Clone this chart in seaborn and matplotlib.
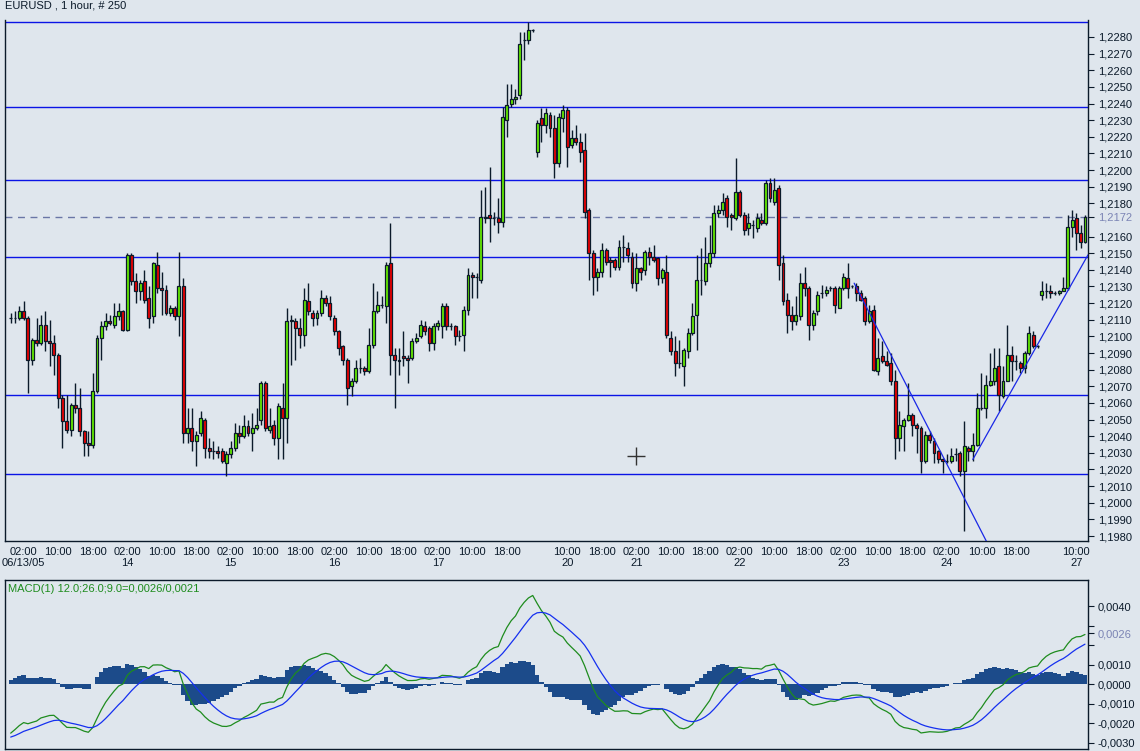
import numpy as np
import pandas as pd
import seaborn as sns
import matplotlib.pyplot as plt

# --- EURUSD 1 hour, 250 bars ---
opens = [
    1.2111, 1.2111, 1.2111, 1.2115, 1.2111, 1.2086, 1.2098, 1.2096, 1.2107, 1.2097,
    1.2096, 1.2089, 1.2063, 1.2049, 1.2044, 1.2059, 1.2057, 1.2043, 1.2036, 1.2035,
    1.2067, 1.2099, 1.2106, 1.2109, 1.2107, 1.2112, 1.2115, 1.2104, 1.2149, 1.2133,
    1.2127, 1.2133, 1.2123, 1.2112, 1.2143, 1.2129, 1.2128, 1.2114, 1.2117, 1.2112,
    1.2130, 1.2042, 1.2045, 1.2037, 1.2042, 1.2050, 1.2033, 1.2031, 1.2031, 1.2031,
    1.2024, 1.2029, 1.2033, 1.2042, 1.2040, 1.2046, 1.2042, 1.2045, 1.2050, 1.2072,
    1.2044, 1.2047, 1.2039, 1.2057, 1.2051, 1.2110, 1.2109, 1.2105, 1.2101, 1.2121,
    1.2114, 1.2111, 1.2114, 1.2123, 1.2120, 1.2111, 1.2103, 1.2094, 1.2086, 1.2070,
    1.2073, 1.2081, 1.2081, 1.2079, 1.2095, 1.2115, 1.2119, 1.2118, 1.2144, 1.2089,
    1.2085, 1.2088, 1.2087, 1.2087, 1.2097, 1.2100, 1.2106, 1.2105, 1.2096, 1.2106,
    1.2106, 1.2118, 1.2106, 1.2106, 1.2100, 1.2101, 1.2116, 1.2137, 1.2136, 1.2134,
    1.2171, 1.2173, 1.2171, 1.2171, 1.2169, 1.2230, 1.2240, 1.2243, 1.2245, 1.2278,
    1.2278, 1.2284, 1.2211, 1.2231, 1.2227, 1.2233, 1.2225, 1.2204, 1.2231, 1.2236,
    1.2215, 1.2219, 1.2217, 1.2212, 1.2176, 1.2150, 1.2136, 1.2139, 1.2152, 1.2146,
    1.2146, 1.2142, 1.2154, 1.2153, 1.2148, 1.2132, 1.2141, 1.2140, 1.2151, 1.2148,
    1.2147, 1.2135, 1.2139, 1.2099, 1.2091, 1.2084, 1.2082, 1.2091, 1.2102, 1.2113,
    1.2134, 1.2133, 1.2144, 1.2150, 1.2174, 1.2176, 1.2183, 1.2173, 1.2171, 1.2187,
    1.2173, 1.2165, 1.2167, 1.2165, 1.2170, 1.2168, 1.2192, 1.2181, 1.2189, 1.2144,
    1.2122, 1.2113, 1.2109, 1.2112, 1.2132, 1.2129, 1.2107, 1.2115, 1.2126, 1.2126,
    1.2129, 1.2129, 1.2117, 1.2129, 1.2135, 1.2130, 1.2130, 1.2126, 1.2123, 1.2109,
    1.2116, 1.2079, 1.2088, 1.2085, 1.2084, 1.2073, 1.2039, 1.2046, 1.2050, 1.2053,
    1.2047, 1.2045, 1.2025, 1.2041, 1.2037, 1.2031, 1.2026, 1.2025, 1.2025, 1.2029,
    1.2030, 1.2019, 1.2033, 1.2031, 1.2035, 1.2057, 1.2057, 1.2071, 1.2073, 1.2082,
    1.2064, 1.2073, 1.2089, 1.2085, 1.2084, 1.2081, 1.2090, 1.2101, 1.2094, 1.2125,
    1.2127, 1.2127, 1.2126, 1.2126, 1.2127, 1.2129, 1.2166, 1.2171, 1.2162, 1.2157,
]
highs = [
    1.2114, 1.2115, 1.2118, 1.2121, 1.2112, 1.2099, 1.2111, 1.2113, 1.2115, 1.2110,
    1.2101, 1.2090, 1.2065, 1.2065, 1.2060, 1.2072, 1.2069, 1.2044, 1.2043, 1.2078,
    1.2101, 1.2109, 1.2114, 1.2113, 1.2120, 1.2120, 1.2116, 1.2150, 1.2150, 1.2138,
    1.2134, 1.2140, 1.2130, 1.2145, 1.2151, 1.2139, 1.2131, 1.2119, 1.2118, 1.2151,
    1.2135, 1.2057, 1.2057, 1.2043, 1.2055, 1.2051, 1.2039, 1.2037, 1.2034, 1.2033,
    1.2031, 1.2037, 1.2048, 1.2047, 1.2053, 1.2050, 1.2054, 1.2057, 1.2073, 1.2073,
    1.2057, 1.2050, 1.2060, 1.2072, 1.2117, 1.2113, 1.2111, 1.2111, 1.2129, 1.2132,
    1.2116, 1.2116, 1.2128, 1.2125, 1.2124, 1.2113, 1.2104, 1.2095, 1.2087, 1.2075,
    1.2086, 1.2087, 1.2082, 1.2105, 1.2132, 1.2127, 1.2124, 1.2145, 1.2168, 1.2093,
    1.2093, 1.2103, 1.2089, 1.2099, 1.2102, 1.2110, 1.2109, 1.2106, 1.2108, 1.2110,
    1.2120, 1.2120, 1.2108, 1.2107, 1.2104, 1.2118, 1.2141, 1.2139, 1.2138, 1.2188,
    1.2190, 1.2202, 1.2175, 1.2183, 1.2238, 1.2252, 1.2252, 1.2249, 1.2283, 1.2283,
    1.2289, 1.2285, 1.2230, 1.2237, 1.2237, 1.2235, 1.2233, 1.2234, 1.2239, 1.2238,
    1.2224, 1.2227, 1.2222, 1.2222, 1.2177, 1.2152, 1.2141, 1.2156, 1.2153, 1.2148,
    1.2147, 1.2158, 1.2161, 1.2157, 1.2151, 1.2150, 1.2142, 1.2152, 1.2154, 1.2155,
    1.2148, 1.2141, 1.2149, 1.2103, 1.2100, 1.2098, 1.2093, 1.2105, 1.2120, 1.2149,
    1.2153, 1.2160, 1.2167, 1.2179, 1.2179, 1.2186, 1.2185, 1.2174, 1.2207, 1.2188,
    1.2175, 1.2174, 1.2170, 1.2174, 1.2174, 1.2194, 1.2195, 1.2195, 1.2191, 1.2149,
    1.2126, 1.2118, 1.2124, 1.2138, 1.2142, 1.2130, 1.2116, 1.2127, 1.2131, 1.2130,
    1.2130, 1.2130, 1.2130, 1.2138, 1.2144, 1.2131, 1.2132, 1.2128, 1.2124, 1.2119,
    1.2119, 1.2099, 1.2097, 1.2091, 1.2090, 1.2080, 1.2055, 1.2051, 1.2072, 1.2054,
    1.2048, 1.2046, 1.2043, 1.2043, 1.2039, 1.2032, 1.2027, 1.2029, 1.2033, 1.2033,
    1.2031, 1.2049, 1.2034, 1.2042, 1.2066, 1.2078, 1.2077, 1.2090, 1.2093, 1.2093,
    1.2082, 1.2107, 1.2094, 1.2089, 1.2085, 1.2091, 1.2106, 1.2103, 1.2095, 1.2133,
    1.2132, 1.2131, 1.2127, 1.2128, 1.2136, 1.2173, 1.2176, 1.2174, 1.2167, 1.2173,
]
lows = [
    1.2108, 1.2108, 1.2110, 1.2110, 1.2066, 1.2083, 1.2094, 1.2095, 1.2091, 1.2082,
    1.2077, 1.2057, 1.2033, 1.2042, 1.2040, 1.2054, 1.2040, 1.2028, 1.2028, 1.2033,
    1.2066, 1.2086, 1.2104, 1.2107, 1.2105, 1.2110, 1.2103, 1.2103, 1.2131, 1.2120,
    1.2122, 1.2120, 1.2105, 1.2108, 1.2126, 1.2113, 1.2113, 1.2112, 1.2110, 1.2100,
    1.2036, 1.2036, 1.2031, 1.2022, 1.2040, 1.2027, 1.2027, 1.2026, 1.2027, 1.2024,
    1.2016, 1.2027, 1.2031, 1.2036, 1.2039, 1.2040, 1.2031, 1.2044, 1.2047, 1.2043,
    1.2042, 1.2035, 1.2026, 1.2026, 1.2036, 1.2083, 1.2086, 1.2093, 1.2094, 1.2113,
    1.2106, 1.2107, 1.2112, 1.2118, 1.2110, 1.2101, 1.2089, 1.2083, 1.2059, 1.2064,
    1.2072, 1.2078, 1.2077, 1.2078, 1.2093, 1.2114, 1.2117, 1.2108, 1.2077, 1.2057,
    1.2077, 1.2082, 1.2072, 1.2086, 1.2096, 1.2099, 1.2101, 1.2091, 1.2092, 1.2104,
    1.2099, 1.2104, 1.2104, 1.2095, 1.2097, 1.2091, 1.2113, 1.2123, 1.2123, 1.2132,
    1.2168, 1.2157, 1.2167, 1.2162, 1.2166, 1.2220, 1.2238, 1.2240, 1.2243, 1.2266,
    1.2276, 1.2283, 1.2208, 1.2217, 1.2222, 1.2220, 1.2195, 1.2202, 1.2223, 1.2202,
    1.2213, 1.2215, 1.2205, 1.2171, 1.2134, 1.2125, 1.2127, 1.2136, 1.2143, 1.2136,
    1.2140, 1.2140, 1.2145, 1.2145, 1.2129, 1.2127, 1.2134, 1.2137, 1.2143, 1.2145,
    1.2131, 1.2132, 1.2099, 1.2089, 1.2076, 1.2081, 1.2070, 1.2087, 1.2101, 1.2092,
    1.2125, 1.2131, 1.2142, 1.2148, 1.2172, 1.2173, 1.2166, 1.2164, 1.2170, 1.2172,
    1.2161, 1.2161, 1.2159, 1.2163, 1.2167, 1.2167, 1.2181, 1.2179, 1.2134, 1.2119,
    1.2102, 1.2104, 1.2107, 1.2110, 1.2124, 1.2098, 1.2104, 1.2113, 1.2123, 1.2124,
    1.2127, 1.2114, 1.2117, 1.2128, 1.2123, 1.2129, 1.2121, 1.2121, 1.2107, 1.2108,
    1.2079, 1.2077, 1.2084, 1.2082, 1.2071, 1.2026, 1.2031, 1.2031, 1.2049, 1.2040,
    1.2030, 1.2018, 1.2024, 1.2036, 1.2024, 1.2024, 1.2018, 1.2024, 1.2024, 1.2025,
    1.2016, 1.1983, 1.2025, 1.2025, 1.2034, 1.2056, 1.2051, 1.2070, 1.2071, 1.2055,
    1.2063, 1.2073, 1.2073, 1.2080, 1.2078, 1.2078, 1.2089, 1.2093, 1.2093, 1.2122,
    1.2123, 1.2123, 1.2125, 1.2125, 1.2127, 1.2128, 1.2160, 1.2152, 1.2153, 1.2156,
]
closes = [
    1.2111, 1.2111, 1.2115, 1.2111, 1.2086, 1.2098, 1.2096, 1.2107, 1.2097, 1.2096,
    1.2089, 1.2063, 1.2049, 1.2044, 1.2059, 1.2057, 1.2043, 1.2036, 1.2035, 1.2067,
    1.2099, 1.2106, 1.2109, 1.2108, 1.2112, 1.2115, 1.2104, 1.2149, 1.2133, 1.2127,
    1.2132, 1.2122, 1.2111, 1.2144, 1.2129, 1.2128, 1.2114, 1.2117, 1.2112, 1.2130,
    1.2042, 1.2045, 1.2037, 1.2041, 1.2051, 1.2033, 1.2031, 1.2031, 1.2030, 1.2025,
    1.2029, 1.2033, 1.2042, 1.2040, 1.2046, 1.2042, 1.2045, 1.2047, 1.2072, 1.2045,
    1.2046, 1.2039, 1.2058, 1.2051, 1.2109, 1.2109, 1.2105, 1.2101, 1.2122, 1.2115,
    1.2111, 1.2114, 1.2123, 1.2120, 1.2112, 1.2103, 1.2093, 1.2086, 1.2069, 1.2073,
    1.2081, 1.2081, 1.2079, 1.2095, 1.2115, 1.2119, 1.2119, 1.2143, 1.2089, 1.2086,
    1.2086, 1.2087, 1.2086, 1.2097, 1.2099, 1.2107, 1.2103, 1.2096, 1.2106, 1.2108,
    1.2118, 1.2106, 1.2106, 1.2100, 1.2100, 1.2116, 1.2137, 1.2136, 1.2136, 1.2172,
    1.2172, 1.2171, 1.2171, 1.2169, 1.2232, 1.2239, 1.2243, 1.2244, 1.2276, 1.2278,
    1.2284, 1.2284, 1.2228, 1.2227, 1.2234, 1.2225, 1.2204, 1.2232, 1.2236, 1.2214,
    1.2219, 1.2217, 1.2211, 1.2175, 1.2150, 1.2136, 1.2139, 1.2152, 1.2145, 1.2145,
    1.2142, 1.2154, 1.2154, 1.2149, 1.2132, 1.2141, 1.2139, 1.2151, 1.2148, 1.2146,
    1.2135, 1.2140, 1.2101, 1.2091, 1.2084, 1.2084, 1.2092, 1.2102, 1.2112, 1.2134,
    1.2134, 1.2144, 1.2150, 1.2174, 1.2176, 1.2181, 1.2172, 1.2172, 1.2187, 1.2173,
    1.2164, 1.2168, 1.2167, 1.2171, 1.2168, 1.2192, 1.2183, 1.2188, 1.2143, 1.2121,
    1.2113, 1.2109, 1.2113, 1.2132, 1.2129, 1.2107, 1.2114, 1.2125, 1.2126, 1.2128,
    1.2129, 1.2119, 1.2129, 1.2136, 1.2129, 1.2130, 1.2126, 1.2122, 1.2109, 1.2115,
    1.2080, 1.2087, 1.2085, 1.2083, 1.2073, 1.2039, 1.2047, 1.2050, 1.2053, 1.2047,
    1.2045, 1.2025, 1.2041, 1.2038, 1.2030, 1.2026, 1.2025, 1.2025, 1.2028, 1.2029,
    1.2019, 1.2034, 1.2031, 1.2035, 1.2057, 1.2057, 1.2071, 1.2073, 1.2081, 1.2065,
    1.2073, 1.2089, 1.2085, 1.2085, 1.2081, 1.2090, 1.2102, 1.2094, 1.2094, 1.2127,
    1.2127, 1.2126, 1.2126, 1.2127, 1.2129, 1.2166, 1.2170, 1.2162, 1.2157, 1.2172,
]

# time axis labels (bar index -> label)
tick_bars = [3, 11, 19, 27, 35, 43, 51, 59, 67, 75, 83, 91, 99, 107, 115,
             129, 137, 145, 153, 161, 169, 177, 185, 193, 201, 209, 217, 225, 233, 247]
tick_times = ["02:00", "10:00", "18:00", "02:00", "10:00", "18:00", "02:00", "10:00",
              "18:00", "02:00", "10:00", "18:00", "02:00", "10:00", "18:00",
              "10:00", "18:00", "02:00", "10:00", "18:00", "02:00", "10:00", "18:00",
              "02:00", "10:00", "18:00", "02:00", "10:00", "18:00", "10:00"]
date_bars = [3, 27, 51, 75, 99, 129, 145, 169, 193, 217, 247]
date_labels = ["06/13/05", "14", "15", "16", "17", "20", "21", "22", "23", "24", "27"]

# drawn objects on the price chart
level_prices = [1.2289, 1.2238, 1.2194, 1.2148, 1.2065, 1.2017]
last_price = 1.2172
trend_down_bars = [195.5, 227.5]
trend_down_prices = [1.2132, 1.1970]
trend_up_bars = [223.0, 249.7]
trend_up_prices = [1.2026, 1.2149]
cursor_bar, cursor_price = 145, 1.2028

# MACD settings, the values it starts from and the values printed on the chart
macd_fast, macd_slow, macd_sig = 12, 26, 9
macd_first, signal_first = -0.0025, -0.0027
macd_shown, signal_shown = 0.0026, 0.0021

BG = "#dfe6ed"
INK = "#0b1a2a"

sns.set_theme(style="white", rc={
    "axes.facecolor": BG, "figure.facecolor": BG,
    "axes.edgecolor": INK, "axes.linewidth": 1.0,
    "xtick.color": INK, "ytick.color": INK,
})
plt.rcParams["font.family"] = ["Liberation Sans", "DejaVu Sans"]

df = pd.DataFrame({"open": opens, "high": highs, "low": lows, "close": closes})
df["bar"] = np.arange(len(df))

# MACD from the closes
a_f = 2.0 / (macd_fast + 1)
a_s = 2.0 / (macd_slow + 1)
a_g = 2.0 / (macd_sig + 1)
ema_f = [closes[0]]
ema_s = [closes[0] - macd_first]
sig = [signal_first]
for c in closes[1:]:
    ema_f.append(ema_f[-1] + a_f * (c - ema_f[-1]))
    ema_s.append(ema_s[-1] + a_s * (c - ema_s[-1]))
    m = ema_f[-1] - ema_s[-1]
    sig.append(sig[-1] + a_g * (m - sig[-1]))
df["macd"] = np.array(ema_f) - np.array(ema_s)
df["signal"] = sig
df["hist"] = df["macd"] - df["signal"]

W, H = 1140, 751
fig = plt.figure(figsize=(W / 100, H / 100), dpi=100)


def px_axes(x0, y0, x1, y1):
    return fig.add_axes([x0 / W, 1 - y1 / H, (x1 - x0) / W, (y1 - y0) / H])


ax = px_axes(5, 20, 1088, 541)
ax2 = px_axes(5, 580, 1088, 749)

# ---- price panel ----
up = df["close"] >= df["open"]
body_lo = df[["open", "close"]].min(axis=1)
body_h = (df["close"] - df["open"]).abs()

ax.vlines(df["bar"], df["low"], df["high"], color=INK, lw=1.0, zorder=3)
ax.bar(df["bar"][up], body_h[up], bottom=body_lo[up], width=0.68,
       color="#66ee00", edgecolor=INK, lw=0.9, zorder=4)
ax.bar(df["bar"][~up], body_h[~up], bottom=body_lo[~up], width=0.68,
       color="#ee0000", edgecolor=INK, lw=0.9, zorder=4)

for p in level_prices:
    ax.axhline(p, color="#0a14e6", lw=1.0, zorder=2)
ax.axhline(last_price, color="#6a76a6", lw=1.0, dashes=(5, 4), zorder=2)
ax.plot(trend_down_bars, trend_down_prices, color="#1a28e6", lw=0.9, zorder=5)
ax.plot(trend_up_bars, trend_up_prices, color="#1a28e6", lw=0.9, zorder=5)
ax.plot([cursor_bar], [cursor_price], marker="+", ms=13, mew=1.0, color="#333333", zorder=6)

ax.set_xlim(-1.32, 249.7)
ax.set_ylim(1.19770, 1.22902)

yt = [round(1.198 + k * 0.001, 4) for k in range(31)]
yt = [v for v in yt if abs(v - 1.217) > 1e-6] + [last_price]
ax.yaxis.tick_right()
ax.set_yticks(yt)
ax.set_yticklabels([f"{v:.4f}".replace(".", ",") for v in yt])
ax.get_yticklabels()[-1].set_color("#7b84b4")

xlabels = []
for b, t in zip(tick_bars, tick_times):
    lab = t
    if b in date_bars:
        lab = t + "\n" + date_labels[date_bars.index(b)]
    xlabels.append(lab)
ax.set_xticks(tick_bars)
ax.set_xticklabels(xlabels, linespacing=1.15)
ax.tick_params(axis="x", direction="out", length=3, width=0.8, pad=1.5, labelsize=8)
ax.tick_params(axis="y", direction="out", length=4, width=0.8, pad=3, labelsize=8)
ax.spines["top"].set_visible(False)
ax.set_xlabel("")
ax.set_ylabel("")

# ---- MACD panel ----
ax2.bar(df["bar"], df["hist"], width=1.0, color="#1c4b8a", lw=0, zorder=2)
sns.lineplot(data=df, x="bar", y="macd", ax=ax2, color="#1e8c1e", lw=0.9, zorder=3)
sns.lineplot(data=df, x="bar", y="signal", ax=ax2, color="#1530f0", lw=0.9, zorder=3)
ax2.set_xlim(-1.32, 249.7)
ax2.set_ylim(-0.00331, 0.00533)
ax2.set_xticks([])
ax2.set_xlabel("")
ax2.set_ylabel("")
mt = [0.004, 0.003, 0.002, 0.001, 0.0, -0.001, -0.002, -0.003]
mlab = ["0,0040", "", "", "0,0010", "0,0000", "-0,0010", "-0,0020", "-0,0030"]
ax2.yaxis.tick_right()
ax2.set_yticks(mt + [macd_shown])
ax2.set_yticklabels(mlab + [f"{macd_shown:.4f}".replace(".", ",")])
ax2.get_yticklabels()[-1].set_color("#7b84b4")
ax2.tick_params(axis="y", direction="out", length=4, width=0.8, pad=3, labelsize=8)
ax2.text(0.003, 0.947,
         f"MACD(1) {macd_fast:.1f};{macd_slow:.1f};{macd_sig:.1f}="
         + f"{macd_shown:.4f}/{signal_shown:.4f}".replace(".", ","),
         transform=ax2.transAxes, va="center", ha="left", fontsize=8, color="#1e8c1e")

fig.text(5 / W, 1 - 6 / H, "EURUSD , 1 hour, # 250", ha="left", va="center",
         fontsize=8, color=INK)

fig.savefig("out.png", dpi=100, facecolor=BG)
